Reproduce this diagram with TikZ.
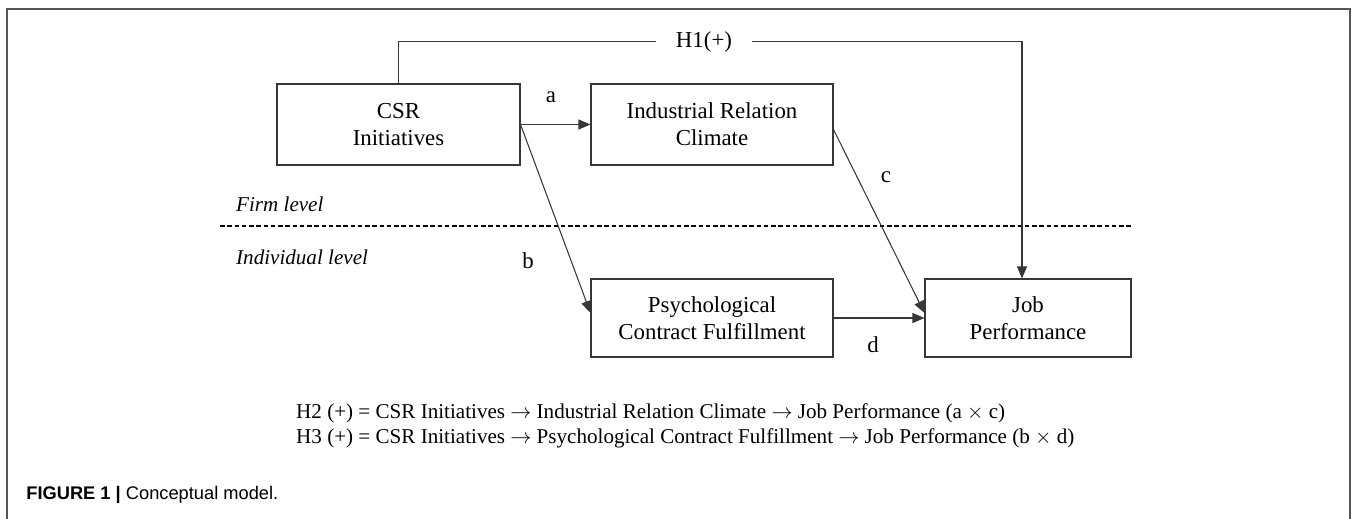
\documentclass[tikz,border=0pt]{standalone}
\usepackage{fontspec}
\setmainfont{Liberation Serif}
\setsansfont{Liberation Sans}
\usepackage{tikz}
\usetikzlibrary{positioning,arrows.meta,calc}
\definecolor{linegray}{RGB}{55,55,55}
\definecolor{framegray}{RGB}{85,85,85}

\begin{document}
\begin{tikzpicture}[x=0.2mm, y=-0.2mm,
    box/.style={draw=linegray, line width=0.6pt, align=center, inner sep=0pt,
        font=\fontsize{13}{15.5}\selectfont},
    arr/.style={draw=linegray, line width=0.6pt, -{Triangle[length=2.4mm,width=2mm]}},
    lbl/.style={font=\fontsize{13}{15}\selectfont},
    lvl/.style={anchor=west, font=\fontsize{12}{14}\selectfont\itshape},
    eq/.style={anchor=west, font=\fontsize{12}{14}\selectfont}]
    \useasboundingbox (0,0) rectangle (1357,519);

    % Frame
    \draw[framegray, line width=1.2pt] (7,519) -- (7,9) -- (1350,9) -- (1350,519);

    % Boxes
    \node[box, minimum width=48.6mm, minimum height=16.2mm] (csr) at (398.5,124.5) {CSR\\Initiatives};
    \node[box, minimum width=48.4mm, minimum height=16.2mm] (irc) at (712,124.5) {Industrial Relation\\Climate};
    \node[box, minimum width=48.4mm, minimum height=15.6mm] (pcf) at (712,318) {Psychological\\Contract Fulfillment};
    \node[box, minimum width=41.2mm, minimum height=15.6mm] (jp) at (1028,318) {Job\\Performance};

    % Levels
    \coordinate (dl) at (220,226);
    \coordinate (dr) at (1131,226);
    \draw[black, line width=0.6pt, dash pattern=on 0.9mm off 0.55mm] (dl) -- (dr);
    \node[lvl] (firm) at (230,204) {Firm level};
    \node[lvl] (indiv) at (230,257) {Individual level};

    % Paths
    \draw[arr] (csr.east) -- (irc.west);
    \draw[arr] (csr.east) -- ([yshift=1mm]pcf.west);
    \draw[arr] ([yshift=-1mm]irc.east) -- ([yshift=1mm]jp.west);
    \draw[arr] (pcf.east) -- (jp.west);
    \draw[arr] (csr.north) -- ++(0,-42) -| ([xshift=-1.2mm]jp.north);
    \node[lbl, fill=white, inner xsep=4mm, inner ysep=1pt] (h1) at (704,42) {H1(+)};

    % Path labels
    \node[lbl] (la) at (551,97) {a};
    \node[lbl] (lb) at (528,261) {b};
    \node[lbl] (lc) at (886,177) {c};
    \node[lbl] (ld) at (873,345) {d};

    % Indirect effects
    \node[eq] (h2) at (290,413) {H2 (+) = CSR\ Initiatives $\rightarrow$ Industrial Relation Climate $\rightarrow$ Job Performance (a $\times$ c)};
    \node[eq] (h3) at (290,438) {H3 (+) = CSR\ Initiatives $\rightarrow$ Psychological Contract Fulfillment $\rightarrow$ Job Performance (b $\times$ d)};

    % Caption
    \node[anchor=west, inner sep=0pt, font=\sffamily\fontsize{10.4}{12}\selectfont] (cap) at (26,495) {\textbf{FIGURE 1 |} Conceptual model.};
\end{tikzpicture}
\end{document}
